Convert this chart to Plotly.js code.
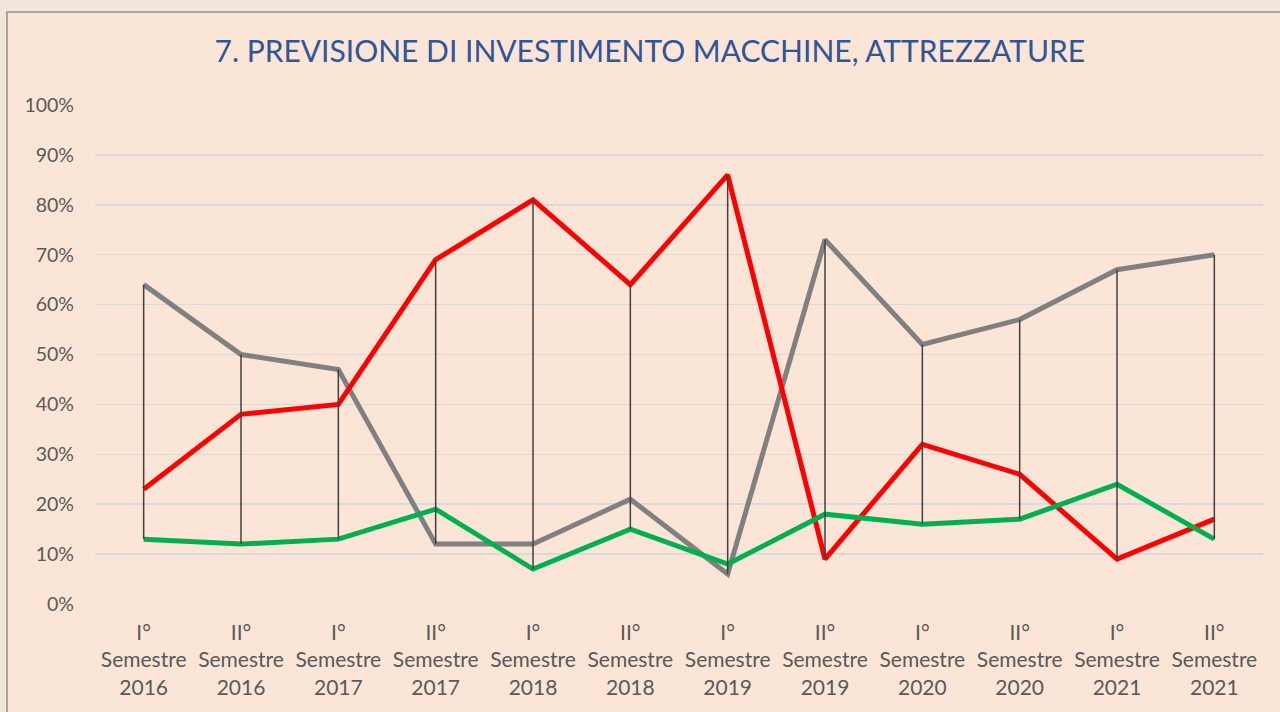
<!DOCTYPE html>
<html>
<head>
<meta charset="utf-8">
<script src="https://cdn.plot.ly/plotly-3.0.1.min.js"></script>
<style>
  html, body { margin: 0; padding: 0; background: #F3E6DA; width: 1280px; height: 712px; overflow: hidden; }
  #frame { position: absolute; left: 6px; top: 11px; width: 1290px; height: 720px; background: #FBE5D6; border: 2px solid #A6A6A6; box-sizing: border-box; }
  #chart { position: absolute; left: 0; top: 0; width: 1280px; height: 712px; }
</style>
</head>
<body>
<div id="frame"></div>
<div id="chart"></div>
<script>
const categories = [
  "I°<br>Semestre<br>2016", "II°<br>Semestre<br>2016",
  "I°<br>Semestre<br>2017", "II°<br>Semestre<br>2017",
  "I°<br>Semestre<br>2018", "II°<br>Semestre<br>2018",
  "I°<br>Semestre<br>2019", "II°<br>Semestre<br>2019",
  "I°<br>Semestre<br>2020", "II°<br>Semestre<br>2020",
  "I°<br>Semestre<br>2021", "II°<br>Semestre<br>2021"
];
const graySeries  = [0.64, 0.50, 0.47, 0.12, 0.12, 0.21, 0.06, 0.73, 0.52, 0.57, 0.67, 0.70];
const redSeries   = [0.23, 0.38, 0.40, 0.69, 0.81, 0.64, 0.86, 0.09, 0.32, 0.26, 0.09, 0.17];
const greenSeries = [0.13, 0.12, 0.13, 0.19, 0.07, 0.15, 0.08, 0.18, 0.16, 0.17, 0.24, 0.13];
const yTickVals = [0, 0.1, 0.2, 0.3, 0.4, 0.5, 0.6, 0.7, 0.8, 0.9, 1.0];
const yTickText = ["0%", "10%", "20%", "30%", "40%", "50%", "60%", "70%", "80%", "90%", "100%"];
const titleText = "7. PREVISIONE DI INVESTIMENTO MACCHINE, ATTREZZATURE";

// high-low lines built from the series
const hlX = [], hlY = [];
categories.forEach((c, i) => {
  const vals = [graySeries[i], redSeries[i], greenSeries[i]];
  hlX.push(c, c, null);
  hlY.push(Math.min(...vals), Math.max(...vals), null);
});

const FONT = "Lato, 'Open Sans', sans-serif";

const traces = [
  { x: categories, y: graySeries, type: "scatter", mode: "lines", line: { color: "#808080", width: 5 }, hoverinfo: "skip" },
  { x: categories, y: redSeries, type: "scatter", mode: "lines", line: { color: "#FF0000", width: 5 }, hoverinfo: "skip" },
  { x: categories, y: greenSeries, type: "scatter", mode: "lines", line: { color: "#00B050", width: 5 }, hoverinfo: "skip" },
  { x: hlX, y: hlY, type: "scatter", mode: "lines", line: { color: "#404040", width: 1.5 }, connectgaps: false, hoverinfo: "skip" }
];

const layout = {
  width: 1280, height: 712,
  paper_bgcolor: "rgba(0,0,0,0)",
  plot_bgcolor: "rgba(0,0,0,0)",
  showlegend: false,
  margin: { l: 95, r: 17, t: 105, b: 108 },
  title: {
    text: titleText,
    font: { family: FONT, size: 30, color: "#2F5597" },
    x: 0.475, xanchor: "center", xref: "paper",
    y: 0.927, yanchor: "middle", yref: "container"
  },
  xaxis: {
    type: "category",
    range: [-0.5, 11.5],
    showgrid: false, zeroline: false, showline: false,
    ticks: "", ticklabelstandoff: 14,
    tickfont: { family: FONT, size: 21, color: "#595959" },
    automargin: false
  },
  yaxis: {
    range: [0, 1],
    tickvals: yTickVals, ticktext: yTickText,
    showgrid: true, gridcolor: "#DCDAD8", gridwidth: 1.5,
    zeroline: false, showline: false,
    ticks: "", ticklabelstandoff: 20,
    tickfont: { family: FONT, size: 19.5, color: "#595959" },
    automargin: false
  }
};

Plotly.newPlot("chart", traces, layout, { staticPlot: true, displayModeBar: false });
</script>
</body>
</html>
